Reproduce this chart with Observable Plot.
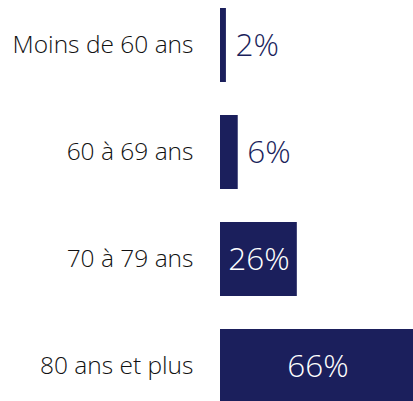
<!DOCTYPE html>
<html>
<head>
<meta charset="utf-8">
<script src="https://cdn.jsdelivr.net/npm/d3@7"></script>
<script src="https://cdn.jsdelivr.net/npm/@observablehq/plot@0.6"></script>
<style>
  html, body { margin: 0; padding: 0; background: #fff; overflow: hidden; }
  #chart svg { overflow: hidden; }
</style>
</head>
<body>
<div id="chart"></div>
<script>
const categories = ["Moins de 60 ans", "60 à 69 ans", "70 à 79 ans", "80 ans et plus"];
const values = [2, 6, 26, 66];
const labels = ["2%", "6%", "26%", "66%"];

const data = categories.map((c, i) => ({ category: c, value: values[i], label: labels[i] }));
const navy = "#1b1f5c";
const isInside = d => d.value >= 20;

const chart = Plot.plot({
  width: 413,
  height: 401,
  marginLeft: 220,
  marginRight: 0,
  marginTop: 0,
  marginBottom: 0,
  style: { fontFamily: "'Open Sans', 'Noto Sans', sans-serif", background: "#fff", overflow: "hidden" },
  x: { domain: [0, 66], range: [220, 415], axis: null },
  y: { domain: categories, range: [8, 405], paddingInner: 0.31, paddingOuter: 0, align: 0, label: null },
  marks: [
    Plot.barX(data, { y: "category", x: "value", fill: navy }),
    Plot.axisY({ tickSize: 0, tickPadding: 27, fontSize: 24.5, fontWeight: 300, fill: "#111111", label: null }),
    Plot.text(data.filter(d => !isInside(d)), {
      y: "category", x: "value", text: "label", textAnchor: "start", dx: 9,
      fill: navy, fontSize: 31.5, fontWeight: 300
    }),
    Plot.text(data.filter(isInside), {
      y: "category", x: d => d.value / 2, text: "label", textAnchor: "middle",
      fill: "#ffffff", fontSize: 31.5, fontWeight: 300
    })
  ]
});
document.getElementById("chart").appendChild(chart);
</script>
</body>
</html>
